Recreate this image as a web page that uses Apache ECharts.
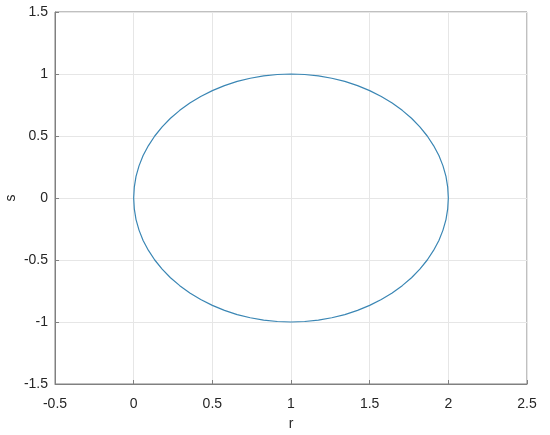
<!DOCTYPE html>
<html>
<head>
<meta charset="utf-8">
<script src="https://cdn.jsdelivr.net/npm/echarts@6/dist/echarts.min.js"></script>
<style>
  html, body { margin: 0; padding: 0; background: #fff; }
  #main { width: 550px; height: 435px; }
</style>
</head>
<body>
<div id="main"></div>
<script>
// points (r, s), going round counter-clockwise
var rVals = [2, 1.996, 1.985, 1.966, 1.94, 1.906, 1.866, 1.819, 1.766, 1.707,
  1.643, 1.574, 1.5, 1.423, 1.342, 1.259, 1.174, 1.087, 1,
  0.913, 0.826, 0.741, 0.658, 0.577, 0.5, 0.426, 0.357, 0.293,
  0.234, 0.181, 0.134, 0.094, 0.06, 0.034, 0.015, 0.004, 0,
  0.004, 0.015, 0.034, 0.06, 0.094, 0.134, 0.181, 0.234, 0.293,
  0.357, 0.426, 0.5, 0.577, 0.658, 0.741, 0.826, 0.913, 1,
  1.087, 1.174, 1.259, 1.342, 1.423, 1.5, 1.574, 1.643, 1.707,
  1.766, 1.819, 1.866, 1.906, 1.94, 1.966, 1.985, 1.996, 2];
var sVals = [0, 0.087, 0.174, 0.259, 0.342, 0.423, 0.5, 0.574, 0.643, 0.707,
  0.766, 0.819, 0.866, 0.906, 0.94, 0.966, 0.985, 0.996, 1,
  0.996, 0.985, 0.966, 0.94, 0.906, 0.866, 0.819, 0.766, 0.707,
  0.643, 0.574, 0.5, 0.423, 0.342, 0.259, 0.174, 0.087, 0,
  -0.087, -0.174, -0.259, -0.342, -0.423, -0.5, -0.574, -0.643, -0.707,
  -0.766, -0.819, -0.866, -0.906, -0.94, -0.966, -0.985, -0.996, -1,
  -0.996, -0.985, -0.966, -0.94, -0.906, -0.866, -0.819, -0.766, -0.707,
  -0.643, -0.574, -0.5, -0.423, -0.342, -0.259, -0.174, -0.087, 0];
var xTicks = [-0.5, 2.5, 0.5];
var yTicks = [-1.5, 1.5, 0.5];

var pts = [];
for (var i = 0; i < rVals.length; i++) {
  pts.push([rVals[i], sVals[i]]);
}

var myChart = echarts.init(document.getElementById('main'));
var labelFont = { color: '#262626', fontSize: 14, fontFamily: 'Liberation Sans, Arial, sans-serif' };

var option = {
  animation: false,
  grid: {
    left: 55, right: 23, top: 12, bottom: 51,
    outerBoundsMode: 'none',
    containLabel: false,
    show: true, borderColor: '#808080', borderWidth: 1
  },
  xAxis: {
    type: 'value',
    min: xTicks[0], max: xTicks[1], interval: xTicks[2],
    name: 'r', nameLocation: 'middle', nameGap: 33, nameMoveOverlap: false,
    nameTextStyle: labelFont,
    axisLine: { show: true, onZero: false, lineStyle: { color: '#808080' } },
    axisTick: { show: true, inside: true, length: 4, lineStyle: { color: '#808080' } },
    axisLabel: Object.assign({ margin: 13 }, labelFont),
    splitLine: { show: true, lineStyle: { color: '#e6e6e6' } }
  },
  yAxis: {
    type: 'value',
    min: yTicks[0], max: yTicks[1], interval: yTicks[2],
    name: 's', nameLocation: 'middle', nameGap: 37, nameMoveOverlap: false,
    nameTextStyle: labelFont,
    axisLine: { show: true, onZero: false, lineStyle: { color: '#808080' } },
    axisTick: { show: true, inside: true, length: 4, lineStyle: { color: '#808080' } },
    axisLabel: Object.assign({ margin: 7 }, labelFont),
    splitLine: { show: true, lineStyle: { color: '#e6e6e6' } }
  },
  series: [{
    type: 'line',
    data: pts,
    showSymbol: false,
    smooth: false,
    lineStyle: { color: '#3a86b4', width: 1.2 }
  }]
};
myChart.setOption(option);
</script>
</body>
</html>
